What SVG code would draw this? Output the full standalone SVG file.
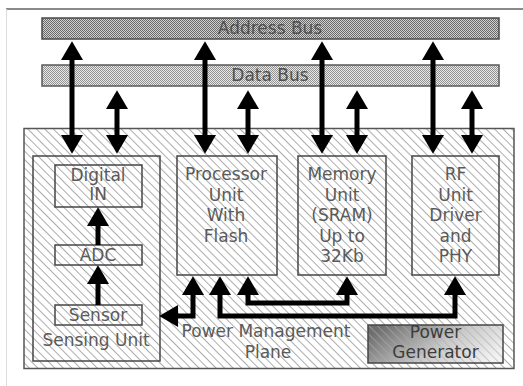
<svg xmlns="http://www.w3.org/2000/svg" width="523" height="386" viewBox="0 0 523 386">
  <defs>
    <pattern id="hatch" width="6" height="6" patternUnits="userSpaceOnUse" patternTransform="rotate(-45)">
      <line x1="0.5" y1="0" x2="0.5" y2="6" stroke="#acacac" stroke-width="1"/>
    </pattern>
    <pattern id="dotsDark" width="2" height="2" patternUnits="userSpaceOnUse">
      <rect width="2" height="2" fill="#cfcfcf"/>
      <rect width="1" height="1" fill="#6a6a6a"/>
      <rect x="1" y="1" width="1" height="1" fill="#6a6a6a"/>
    </pattern>
    <pattern id="dotsLight" width="2" height="2" patternUnits="userSpaceOnUse">
      <rect width="2" height="2" fill="#e8e8e8"/>
      <rect width="1" height="1" fill="#929292"/>
      <rect x="1" y="1" width="1" height="1" fill="#929292"/>
    </pattern>
    <linearGradient id="genGrad" x1="0" y1="0.3" x2="1" y2="0.7">
      <stop offset="0" stop-color="#6e6e6e"/>
      <stop offset="0.55" stop-color="#c8c8c8"/>
      <stop offset="1" stop-color="#f2f2f2"/>
    </linearGradient>
    <marker id="ah" markerUnits="userSpaceOnUse" markerWidth="22" markerHeight="22" refX="1" refY="10.5" orient="auto-start-reverse" viewBox="0 0 19 21">
      <path d="M0,0 L18,10.5 L0,21 z" fill="#000"/>
    </marker>
  </defs>
  <style>
    .t { font-family: "DejaVu Sans", "Liberation Sans", sans-serif; font-size: 17px; fill: #5a5a5a; text-anchor: middle; }
    .bt { font-family: "DejaVu Sans", "Liberation Sans", sans-serif; font-size: 17px; fill: #505050; text-anchor: middle; }
    .box { fill: none; stroke: #454545; stroke-width: 1.5; }
    .conn { fill: none; stroke: #000; stroke-width: 5; stroke-linejoin: miter; }
  </style>

  <rect width="523" height="386" fill="#fff"/>
  <line x1="6" y1="9" x2="523" y2="9" stroke="#8a8a8a" stroke-width="2"/>
  <line x1="6.5" y1="9" x2="6.5" y2="386" stroke="#dcdcdc" stroke-width="1"/>

  <g id="address-bus">
    <rect x="42" y="18" width="457" height="21" fill="url(#dotsDark)" stroke="#4a4a4a" stroke-width="1.5"/>
    <text class="bt" x="270" y="34">Address Bus</text>
  </g>
  <g id="data-bus">
    <rect x="42" y="65" width="457" height="21" fill="url(#dotsLight)" stroke="#5a5a5a" stroke-width="1.5"/>
    <text class="bt" x="270" y="81">Data Bus</text>
  </g>

  <g id="board">
    <rect x="24" y="128.5" width="490" height="240" fill="url(#hatch)" stroke="#555" stroke-width="1.5"/>
  </g>

  <g id="sensing-unit">
    <rect class="box" x="33" y="156" width="127" height="205"/>
    <text class="t" x="96" y="346">Sensing Unit</text>
  </g>
  <g id="digital-in">
    <rect class="box" x="55" y="165" width="87" height="42"/>
    <text class="t" x="98" y="181">Digital</text>
    <text class="t" x="98" y="200">IN</text>
  </g>
  <g id="adc">
    <rect class="box" x="55" y="245" width="87" height="20"/>
    <text class="t" x="98" y="261">ADC</text>
  </g>
  <g id="sensor">
    <rect class="box" x="55" y="305" width="87" height="20"/>
    <text class="t" x="98" y="321">Sensor</text>
  </g>
  <g id="processor">
    <rect class="box" x="177" y="156" width="100" height="119"/>
    <text class="t" x="226" y="180">Processor</text>
    <text class="t" x="226" y="200.5">Unit</text>
    <text class="t" x="226" y="221">With</text>
    <text class="t" x="226" y="242">Flash</text>
  </g>
  <g id="memory">
    <rect class="box" x="298" y="156" width="88" height="119"/>
    <text class="t" x="342" y="180">Memory</text>
    <text class="t" x="342" y="200.5">Unit</text>
    <text class="t" x="342" y="221">(SRAM)</text>
    <text class="t" x="342" y="242">Up to</text>
    <text class="t" x="342" y="262">32Kb</text>
  </g>
  <g id="rf">
    <rect class="box" x="412" y="156" width="87" height="119"/>
    <text class="t" x="455.5" y="180">RF</text>
    <text class="t" x="455.5" y="200.5">Unit</text>
    <text class="t" x="455.5" y="221">Driver</text>
    <text class="t" x="455.5" y="242">and</text>
    <text class="t" x="455.5" y="262">PHY</text>
  </g>
  <g id="power-management">
    <text class="t" x="266" y="337">Power Management</text>
    <text class="t" x="268" y="358">Plane</text>
  </g>
  <g id="power-generator">
    <rect x="368" y="325" width="135" height="38" fill="url(#genGrad)"/>
    <rect x="368" y="325" width="135" height="38" fill="url(#hatch)" opacity="0.6"/>
    <rect class="box" x="368" y="325" width="135" height="38"/>
    <text class="t" x="435.5" y="338" style="fill:#3c3c3c">Power</text>
    <text class="t" x="435.5" y="358" style="fill:#3c3c3c">Generator</text>
  </g>

  <g id="connectors">
    <line class="conn" x1="72" y1="59" x2="72" y2="136" marker-start="url(#ah)" marker-end="url(#ah)"/>
    <line class="conn" x1="205" y1="59" x2="205" y2="136" marker-start="url(#ah)" marker-end="url(#ah)"/>
    <line class="conn" x1="322" y1="59" x2="322" y2="136" marker-start="url(#ah)" marker-end="url(#ah)"/>
    <line class="conn" x1="433" y1="59" x2="433" y2="136" marker-start="url(#ah)" marker-end="url(#ah)"/>
    <line class="conn" x1="117" y1="108" x2="117" y2="136" marker-start="url(#ah)" marker-end="url(#ah)"/>
    <line class="conn" x1="248" y1="108" x2="248" y2="136" marker-start="url(#ah)" marker-end="url(#ah)"/>
    <line class="conn" x1="357" y1="108" x2="357" y2="136" marker-start="url(#ah)" marker-end="url(#ah)"/>
    <line class="conn" x1="472" y1="108" x2="472" y2="136" marker-start="url(#ah)" marker-end="url(#ah)"/>
    <line class="conn" x1="98" y1="245" x2="98" y2="225" marker-end="url(#ah)"/>
    <line class="conn" x1="98" y1="305" x2="98" y2="283" marker-end="url(#ah)"/>
    <path class="conn" d="M177,316 L193,316 L193,294" marker-start="url(#ah)" marker-end="url(#ah)"/>
    <path class="conn" d="M220,294 L220,316 L455,316 L455,294" marker-start="url(#ah)" marker-end="url(#ah)"/>
    <path class="conn" d="M248,294 L248,303 L347,303 L347,294" marker-start="url(#ah)" marker-end="url(#ah)"/>
  </g>
</svg>
